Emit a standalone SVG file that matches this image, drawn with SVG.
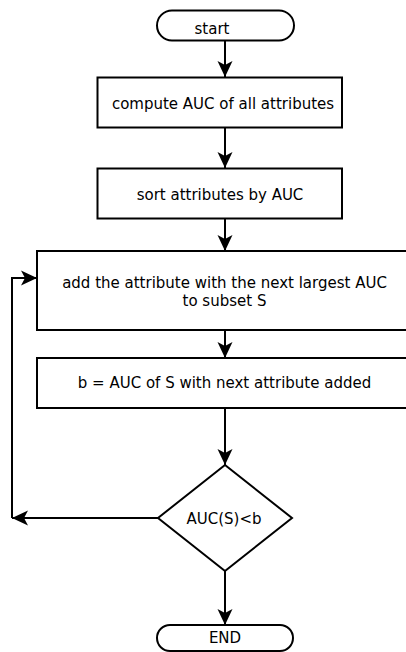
<svg xmlns="http://www.w3.org/2000/svg" width="406" height="652" viewBox="0 0 406 652">
<style>
.shape{fill:#fff;stroke:#000;stroke-width:2}
.edge{fill:none;stroke:#000;stroke-width:2;marker-end:url(#arrow)}
text{font-family:"DejaVu Sans",Verdana,sans-serif;font-size:15px;fill:#000;text-anchor:middle}
</style>
<defs>
<marker id="arrow" markerUnits="userSpaceOnUse" markerWidth="18" markerHeight="18" refX="16" refY="8" orient="auto">
<path d="M0,0.5 L16,8 L0,15.5 L4,8 Z" fill="#000"/>
</marker>
</defs>
<rect width="406" height="652" fill="#fff"/>
<g id="connectors">
<path class="edge" d="M225,41 L225,77"/>
<path class="edge" d="M225,127 L225,168"/>
<path class="edge" d="M225,218 L225,251"/>
<path class="edge" d="M225,330 L225,358"/>
<path class="edge" d="M225,408 L225,465"/>
<path class="edge" d="M225,571 L225,625"/>
<path class="edge" d="M158,518 L12,518"/>
<path class="edge" d="M12,518 L12,278 L37,278"/>
</g>
<g id="start">
<rect class="shape" x="157" y="10.5" width="137" height="30" rx="15" ry="15"/>
<text x="212" y="34">start</text>
</g>
<g id="compute">
<rect class="shape" x="97.5" y="77.5" width="244.5" height="50"/>
<text x="223" y="109">compute AUC of all attributes</text>
</g>
<g id="sort">
<rect class="shape" x="97.5" y="168.5" width="244.5" height="50"/>
<text x="220" y="200">sort attributes by AUC</text>
</g>
<g id="add">
<rect class="shape" x="37" y="251" width="380" height="79"/>
<text x="224.5" y="288">add the attribute with the next largest AUC</text>
<text x="224.5" y="306">to subset S</text>
</g>
<g id="compute-b">
<rect class="shape" x="37" y="358" width="380" height="50"/>
<text x="224.5" y="388">b = AUC of S with next attribute added</text>
</g>
<g id="decision">
<path class="shape" d="M225,465 L292,518 L225,571 L158,518 Z"/>
<text x="224" y="524">AUC(S)&lt;b</text>
</g>
<g id="end">
<rect class="shape" x="157" y="625" width="136" height="26" rx="13" ry="13"/>
<text x="225" y="643">END</text>
</g>
</svg>
